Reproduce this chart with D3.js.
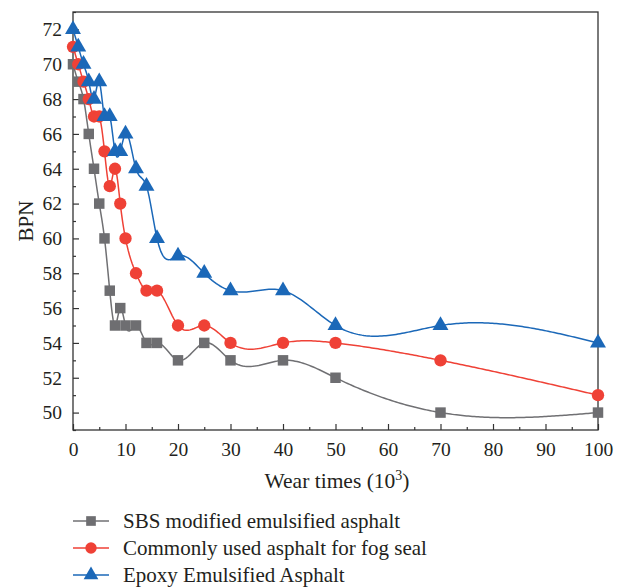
<!DOCTYPE html>
<html>
<head>
<meta charset="utf-8">
<script src="https://cdn.jsdelivr.net/npm/d3@7"></script>
<style>
  html, body { margin: 0; padding: 0; background: #fff; }
  svg { display: block; }
  text { font-family: "Liberation Serif", "Times New Roman", serif; fill: #231f20; }
</style>
</head>
<body>
<svg id="chart" width="621" height="588"></svg>
<script>
// Wear times (x 10^3)
const wearTimes = [0, 1, 2, 3, 4, 5, 6, 7, 8, 9, 10, 12, 14, 16, 20, 25, 30, 40, 50, 70, 100];

// BPN values for each material
const sbsValues   = [70, 69, 68, 66, 64, 62, 60, 57, 55, 56, 55, 55, 54, 54, 53, 54, 53, 53, 52, 50, 50];
const fogValues   = [71, 70, 69, 68, 67, 67, 65, 63, 64, 62, 60, 58, 57, 57, 55, 55, 54, 54, 54, 53, 51];
const epoxyValues = [72, 71, 70, 69, 68, 69, 67, 67, 65, 65, 66, 64, 63, 60, 59, 58, 57, 57, 55, 55, 54];

const seriesNames = [
  "SBS modified emulsified asphalt",
  "Commonly used asphalt for fog seal",
  "Epoxy Emulsified Asphalt"
];

const xTickValues = [0, 10, 20, 30, 40, 50, 60, 70, 80, 90, 100];
const yTickValues = [50, 52, 54, 56, 58, 60, 62, 64, 66, 68, 70, 72];

const series = [
  { name: seriesNames[0], values: sbsValues,   color: "#6e6e71", line: "#707073", symbol: d3.symbolSquare },
  { name: seriesNames[1], values: fogValues,   color: "#ef4136", line: "#ef4136", symbol: d3.symbolCircle },
  { name: seriesNames[2], values: epoxyValues, color: "#1b68b8", line: "#1b68b8", symbol: d3.symbolTriangle }
];

const svg = d3.select("#chart");
const plot = { left: 73, right: 598, top: 12, bottom: 430 };

const x = d3.scaleLinear().domain([0, 100]).range([plot.left, plot.right]);
const y = d3.scaleLinear().domain([49, 73]).range([plot.bottom, plot.top]);

// Natural cubic spline through (xs, ys), returned as y = f(x)
function naturalSpline(xs, ys) {
  const n = xs.length;
  const h = [], alpha = [];
  for (let i = 0; i < n - 1; i++) h[i] = xs[i + 1] - xs[i];
  for (let i = 1; i < n - 1; i++) {
    alpha[i] = (3 / h[i]) * (ys[i + 1] - ys[i]) - (3 / h[i - 1]) * (ys[i] - ys[i - 1]);
  }
  const l = new Array(n).fill(0), mu = new Array(n).fill(0), z = new Array(n).fill(0);
  l[0] = 1;
  for (let i = 1; i < n - 1; i++) {
    l[i] = 2 * (xs[i + 1] - xs[i - 1]) - h[i - 1] * mu[i - 1];
    mu[i] = h[i] / l[i];
    z[i] = (alpha[i] - h[i - 1] * z[i - 1]) / l[i];
  }
  l[n - 1] = 1;
  const c = new Array(n).fill(0), b = [], d = [];
  for (let j = n - 2; j >= 0; j--) {
    c[j] = z[j] - mu[j] * c[j + 1];
    b[j] = (ys[j + 1] - ys[j]) / h[j] - h[j] * (c[j + 1] + 2 * c[j]) / 3;
    d[j] = (c[j + 1] - c[j]) / (3 * h[j]);
  }
  return function (t) {
    let i = 0;
    while (i < n - 2 && t > xs[i + 1]) i++;
    const dx = t - xs[i];
    return ys[i] + b[i] * dx + c[i] * dx * dx + d[i] * dx * dx * dx;
  };
}

function splinePoints(xs, ys) {
  const f = naturalSpline(xs, ys);
  const pts = [];
  for (let i = 0; i < xs.length - 1; i++) {
    const steps = Math.max(8, Math.round((x(xs[i + 1]) - x(xs[i])) / 2));
    for (let k = 0; k < steps; k++) {
      const t = xs[i] + (xs[i + 1] - xs[i]) * k / steps;
      pts.push([t, f(t)]);
    }
  }
  pts.push([xs[xs.length - 1], ys[ys.length - 1]]);
  return pts;
}

// Axes (ticks point inward)
const xAxis = d3.axisBottom(x).tickValues(xTickValues).tickSize(-6).tickPadding(12).tickFormat(d3.format("d"));
const xMinor = d3.axisBottom(x).tickValues(d3.range(5, 100, 10)).tickSize(-3).tickFormat("");
const yAxis = d3.axisLeft(y).tickValues(yTickValues).tickSize(-6).tickPadding(11).tickFormat(d3.format("d"));
const yMinor = d3.axisLeft(y).tickValues(d3.range(49, 74, 2)).tickSize(-3).tickFormat("");

function styleAxis(g) {
  g.select(".domain").remove();
  g.selectAll("line").attr("stroke", "#333").attr("stroke-width", 1.2);
  g.selectAll("text").attr("font-size", 19.5).attr("fill", "#231f20")
    .style("font-family", '"Liberation Serif", "Times New Roman", serif');
}

svg.append("g").attr("transform", `translate(0,${plot.bottom})`).call(xAxis).call(styleAxis);
svg.append("g").attr("transform", `translate(0,${plot.bottom})`).call(xMinor).call(styleAxis);
svg.append("g").attr("transform", `translate(${plot.left},0)`).call(yAxis).call(styleAxis);
svg.append("g").attr("transform", `translate(${plot.left},0)`).call(yMinor).call(styleAxis);

// Frame
svg.append("rect")
  .attr("x", plot.left).attr("y", plot.top)
  .attr("width", plot.right - plot.left).attr("height", plot.bottom - plot.top)
  .attr("fill", "none").attr("stroke", "#333").attr("stroke-width", 1.3);

// Axis titles
svg.append("text")
  .attr("x", 337).attr("y", 488)
  .attr("text-anchor", "middle").attr("font-size", 21.5)
  .html('Wear times (10<tspan dy="-8" font-size="14">3</tspan><tspan dy="8">)</tspan>');

svg.append("text")
  .attr("transform", `translate(33,${(plot.top + plot.bottom) / 2}) rotate(-90)`)
  .attr("text-anchor", "middle").attr("font-size", 21)
  .text("BPN");

// Curves and markers
const line = d3.line().x(d => x(d[0])).y(d => y(d[1]));

series.forEach(s => {
  svg.append("path")
    .datum(splinePoints(wearTimes, s.values))
    .attr("d", line)
    .attr("fill", "none")
    .attr("stroke", s.line)
    .attr("stroke-width", 1.5);
});

const symbolSize = { 0: 110, 1: 120, 2: 110 };
series.forEach((s, si) => {
  svg.append("g").selectAll("path")
    .data(wearTimes.map((t, i) => [t, s.values[i]]))
    .join("path")
    .attr("transform", d => `translate(${x(d[0])},${y(d[1])})`)
    .attr("d", d3.symbol().type(s.symbol).size(symbolSize[si]))
    .attr("fill", s.color);
});

// Legend
const legend = svg.append("g");
series.forEach((s, i) => {
  const ly = 521 + i * 27;
  legend.append("line")
    .attr("x1", 73).attr("x2", 109).attr("y1", ly).attr("y2", ly)
    .attr("stroke", s.line).attr("stroke-width", 1.5);
  legend.append("path")
    .attr("transform", `translate(91,${ly})`)
    .attr("d", d3.symbol().type(s.symbol).size(symbolSize[i] * 0.85))
    .attr("fill", s.color);
  legend.append("text")
    .attr("x", 123).attr("y", ly).attr("dy", "0.33em")
    .attr("font-size", 21)
    .text(s.name);
});
</script>
</body>
</html>
